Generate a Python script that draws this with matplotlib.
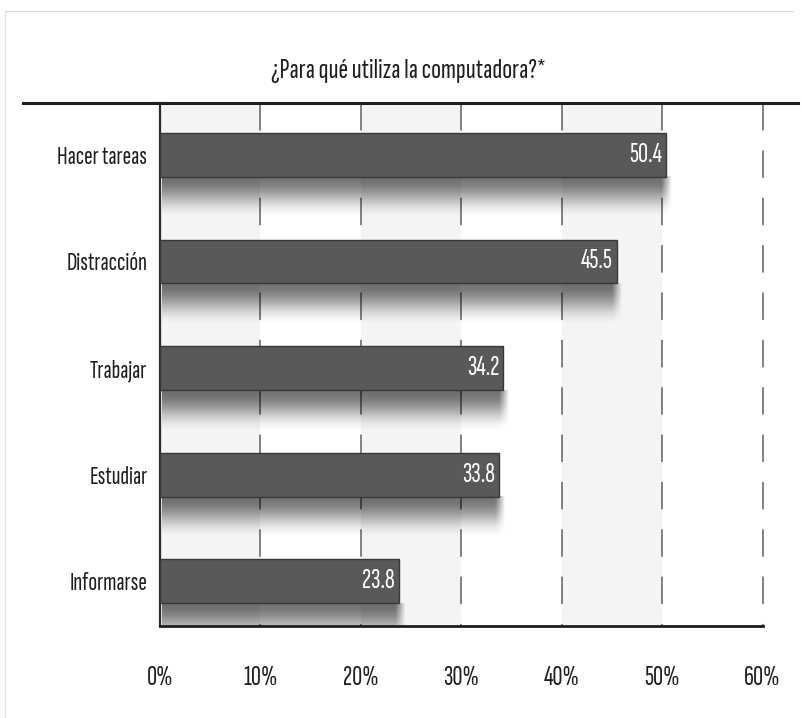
import numpy as np
import matplotlib
matplotlib.use('Agg')
import matplotlib.pyplot as plt
from matplotlib.lines import Line2D

categories = ['Hacer tareas', 'Distracción', 'Trabajar', 'Estudiar', 'Informarse']
values = [50.4, 45.5, 34.2, 33.8, 23.8]
ticks = [0, 10, 20, 30, 40, 50, 60]
tick_labels = ['0%', '10%', '20%', '30%', '40%', '50%', '60%']
title = '¿Para qué utiliza la computadora?*'

plt.rcParams['font.family'] = ['Sofia Sans Extra Condensed', 'DejaVu Sans']
bar_h = 0.41

fig = plt.figure(figsize=(8.02, 7.18), dpi=100)
ax = fig.add_axes([0.1995, 0.1281, 0.7513, 0.7289])

# alternating light columns
for x0 in (0, 20, 40):
    ax.axvspan(x0, x0 + 10, color='#f4f4f4', lw=0, zorder=0)

# dashed vertical grid
for t in ticks[1:]:
    ax.plot([t, t], [-0.49, 4.42], color='#606060', lw=1.1,
            linestyle=(0, (18, 13)), zorder=1, clip_on=False)

# soft shadow under each bar
ny, nx = 64, 256
t = np.linspace(0, 1, ny)
fade_y = 0.55 * 0.5 * (1 + np.cos(np.pi * t))
for i, v in enumerate(values):
    w = v + 0.6
    xs = np.linspace(0, w, nx)
    fade_x = np.clip((w - xs) / 1.0, 0, 1)
    img = np.zeros((ny, nx, 4))
    img[..., 3] = fade_y[:, None] * fade_x[None, :]
    ax.imshow(img, extent=(0.2, w, i + bar_h / 2 + 0.40, i + bar_h / 2),
              aspect='auto', interpolation='bilinear', zorder=2)
ax.set_xlim(0, 60)
ax.set_ylim(4.42, -0.49)

ax.barh(range(len(values)), values, height=bar_h, color='#595959',
        edgecolor='#383838', linewidth=1.0, zorder=3)
for i, v in enumerate(values):
    ax.text(v - 0.4, i, f'{v}', ha='right', va='center', color='white',
            fontsize=20, zorder=4)

ax.set_yticks(range(len(categories)), categories, fontsize=18.5)
ax.set_xticks(ticks, tick_labels, fontsize=20)
ax.tick_params(axis='y', length=0, pad=9)
ax.tick_params(axis='x', length=0, pad=29)
for side in ('top', 'right'):
    ax.spines[side].set_visible(False)
ax.spines['left'].set_color('#2a2a2a')
ax.spines['left'].set_linewidth(1.6)
ax.spines['bottom'].set_color('#1e1e1e')
ax.spines['bottom'].set_linewidth(2.0)
ax.tick_params(colors='#1e1e1e')

# heavy rule under the title and thin outer frame
fig.add_artist(Line2D([23 / 802, 798 / 802], [1 - 103 / 718] * 2, lw=2.2, color='#1e1e1e'))
fig.add_artist(Line2D([5 / 802, 793 / 802], [1 - 10.5 / 718] * 2, lw=0.9, color='#d9d9d9'))
fig.add_artist(Line2D([5 / 802, 5 / 802], [1 - 10.5 / 718, 0], lw=0.9, color='#e4e4e4'))

fig.text(408 / 802, 1 - 78 / 718, title, ha='center', va='baseline',
         fontsize=21, color='#1e1e1e')

fig.savefig('out.png', dpi=100)
